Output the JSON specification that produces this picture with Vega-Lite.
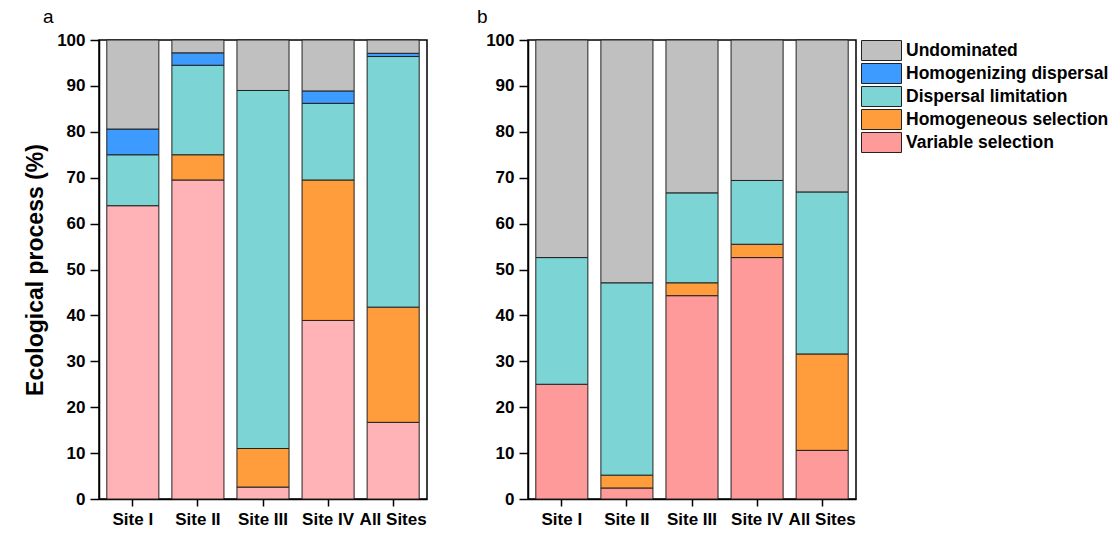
{
  "$schema": "https://vega.github.io/schema/vega-lite/v6.json",
  "padding": {"left": 23, "top": 7, "right": 5, "bottom": 5},
  "background": "white",
  "config": {
    "font": "Liberation Sans",
    "view": {"stroke": "#000", "strokeWidth": 1.5},
    "axis": {"labelFont": "Liberation Sans", "labelFontWeight": "bold", "labelFontSize": 17, "labelColor": "#000", "tickColor": "#000", "domainColor": "#000", "grid": false, "domainWidth": 1.5, "tickWidth": 1.5, "titleColor": "#000"},
    "title": {"font": "Liberation Sans", "fontWeight": "normal", "fontSize": 19, "anchor": "start", "frame": "group", "color": "#000"}
  },
  "datasets": {
    "d": [
      {"panel": "a", "site": "Site I", "process": "Variable selection", "rank": 1, "value": 63.9},
      {"panel": "a", "site": "Site I", "process": "Dispersal limitation", "rank": 3, "value": 11.1},
      {"panel": "a", "site": "Site I", "process": "Homogenizing dispersal", "rank": 4, "value": 5.6},
      {"panel": "a", "site": "Site I", "process": "Undominated", "rank": 5, "value": 19.4},
      {"panel": "a", "site": "Site II", "process": "Variable selection", "rank": 1, "value": 69.5},
      {"panel": "a", "site": "Site II", "process": "Homogeneous selection", "rank": 2, "value": 5.5},
      {"panel": "a", "site": "Site II", "process": "Dispersal limitation", "rank": 3, "value": 19.5},
      {"panel": "a", "site": "Site II", "process": "Homogenizing dispersal", "rank": 4, "value": 2.7},
      {"panel": "a", "site": "Site II", "process": "Undominated", "rank": 5, "value": 2.8},
      {"panel": "a", "site": "Site III", "process": "Variable selection", "rank": 1, "value": 2.6},
      {"panel": "a", "site": "Site III", "process": "Homogeneous selection", "rank": 2, "value": 8.4},
      {"panel": "a", "site": "Site III", "process": "Dispersal limitation", "rank": 3, "value": 78.0},
      {"panel": "a", "site": "Site III", "process": "Undominated", "rank": 5, "value": 11.0},
      {"panel": "a", "site": "Site IV", "process": "Variable selection", "rank": 1, "value": 38.9},
      {"panel": "a", "site": "Site IV", "process": "Homogeneous selection", "rank": 2, "value": 30.6},
      {"panel": "a", "site": "Site IV", "process": "Dispersal limitation", "rank": 3, "value": 16.7},
      {"panel": "a", "site": "Site IV", "process": "Homogenizing dispersal", "rank": 4, "value": 2.7},
      {"panel": "a", "site": "Site IV", "process": "Undominated", "rank": 5, "value": 11.1},
      {"panel": "a", "site": "All Sites", "process": "Variable selection", "rank": 1, "value": 16.7},
      {"panel": "a", "site": "All Sites", "process": "Homogeneous selection", "rank": 2, "value": 25.1},
      {"panel": "a", "site": "All Sites", "process": "Dispersal limitation", "rank": 3, "value": 54.6},
      {"panel": "a", "site": "All Sites", "process": "Homogenizing dispersal", "rank": 4, "value": 0.7},
      {"panel": "a", "site": "All Sites", "process": "Undominated", "rank": 5, "value": 2.9},
      {"panel": "b", "site": "Site I", "process": "Variable selection", "rank": 1, "value": 25.0},
      {"panel": "b", "site": "Site I", "process": "Dispersal limitation", "rank": 3, "value": 27.6},
      {"panel": "b", "site": "Site I", "process": "Undominated", "rank": 5, "value": 47.4},
      {"panel": "b", "site": "Site II", "process": "Variable selection", "rank": 1, "value": 2.4},
      {"panel": "b", "site": "Site II", "process": "Homogeneous selection", "rank": 2, "value": 2.8},
      {"panel": "b", "site": "Site II", "process": "Dispersal limitation", "rank": 3, "value": 41.9},
      {"panel": "b", "site": "Site II", "process": "Undominated", "rank": 5, "value": 52.9},
      {"panel": "b", "site": "Site III", "process": "Variable selection", "rank": 1, "value": 44.3},
      {"panel": "b", "site": "Site III", "process": "Homogeneous selection", "rank": 2, "value": 2.8},
      {"panel": "b", "site": "Site III", "process": "Dispersal limitation", "rank": 3, "value": 19.6},
      {"panel": "b", "site": "Site III", "process": "Undominated", "rank": 5, "value": 33.3},
      {"panel": "b", "site": "Site IV", "process": "Variable selection", "rank": 1, "value": 52.6},
      {"panel": "b", "site": "Site IV", "process": "Homogeneous selection", "rank": 2, "value": 2.9},
      {"panel": "b", "site": "Site IV", "process": "Dispersal limitation", "rank": 3, "value": 13.9},
      {"panel": "b", "site": "Site IV", "process": "Undominated", "rank": 5, "value": 30.6},
      {"panel": "b", "site": "All Sites", "process": "Variable selection", "rank": 1, "value": 10.6},
      {"panel": "b", "site": "All Sites", "process": "Homogeneous selection", "rank": 2, "value": 21.0},
      {"panel": "b", "site": "All Sites", "process": "Dispersal limitation", "rank": 3, "value": 35.3},
      {"panel": "b", "site": "All Sites", "process": "Undominated", "rank": 5, "value": 33.1}
    ]
  },
  "spacing": 48,
  "resolve": {"scale": {"color": "independent"}},
  "hconcat": [
    {
      "width": 328,
      "height": 459,
      "title": {"text": "a", "dx": -56, "offset": 4},
      "data": {"name": "d"},
      "transform": [{"filter": "datum.panel == 'a'"}],
      "mark": {"type": "bar", "stroke": "#222", "strokeWidth": 1},
      "encoding": {
        "x": {"field": "site", "type": "nominal", "sort": ["Site I", "Site II", "Site III", "Site IV", "All Sites"], "scale": {"paddingInner": 0.2, "paddingOuter": 0.12}, "axis": {"title": null, "labelAngle": 0, "tickSize": 7, "labelPadding": 5}},
        "y": {"field": "value", "type": "quantitative", "stack": "zero", "scale": {"domain": [0, 100], "nice": false}, "axis": {"title": "Ecological process (%)", "titleFontSize": 23, "titleFontWeight": "bold", "titleFont": "Liberation Sans", "values": [0, 10, 20, 30, 40, 50, 60, 70, 80, 90, 100], "tickSize": 9, "labelPadding": 5, "titlePadding": 9}},
        "color": {"field": "process", "type": "nominal", "scale": {"domain": ["Undominated", "Homogenizing dispersal", "Dispersal limitation", "Homogeneous selection", "Variable selection"], "range": ["#C0C0C0", "#3D9BFF", "#7DD4D4", "#FF9D3C", "#FFB3B6"]}, "legend": null},
        "order": {"field": "rank", "type": "quantitative"}
      }
    },
    {
      "width": 328,
      "height": 459,
      "title": {"text": "b", "dx": -51, "offset": 4},
      "data": {"name": "d"},
      "transform": [{"filter": "datum.panel == 'b'"}],
      "mark": {"type": "bar", "stroke": "#222", "strokeWidth": 1},
      "encoding": {
        "x": {"field": "site", "type": "nominal", "sort": ["Site I", "Site II", "Site III", "Site IV", "All Sites"], "scale": {"paddingInner": 0.2, "paddingOuter": 0.12}, "axis": {"title": null, "labelAngle": 0, "tickSize": 7, "labelPadding": 5}},
        "y": {"field": "value", "type": "quantitative", "stack": "zero", "scale": {"domain": [0, 100], "nice": false}, "axis": {"title": null, "values": [0, 10, 20, 30, 40, 50, 60, 70, 80, 90, 100], "tickSize": 9, "labelPadding": 5}},
        "color": {"field": "process", "type": "nominal", "scale": {"domain": ["Undominated", "Homogenizing dispersal", "Dispersal limitation", "Homogeneous selection", "Variable selection"], "range": ["#C0C0C0", "#3D9BFF", "#7DD4D4", "#FF9D3C", "#FF9A9A"]}, "legend": {"title": null, "orient": "right", "offset": 15, "padding": 0, "symbolType": "M-2,-1H2V1H-2Z", "symbolSize": 400, "symbolStrokeColor": "#222", "symbolStrokeWidth": 1, "symbolOpacity": 1, "labelFontSize": 17.5, "labelFontWeight": "bold", "labelFont": "Liberation Sans", "labelColor": "#000", "labelOffset": 14, "rowPadding": -2, "labelLimit": 300}},
        "order": {"field": "rank", "type": "quantitative"}
      }
    }
  ]
}
